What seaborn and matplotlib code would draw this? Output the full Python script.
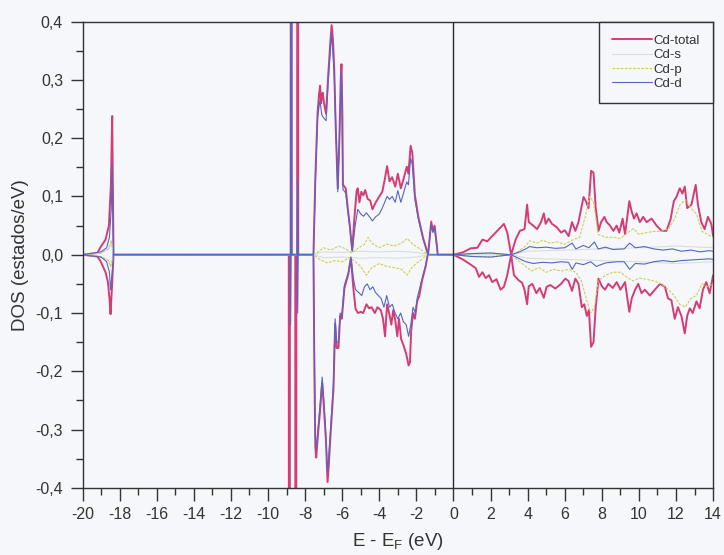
import numpy as np
import pandas as pd
import matplotlib
matplotlib.use("Agg")
import matplotlib.pyplot as plt
from matplotlib.ticker import MultipleLocator, FuncFormatter
import seaborn as sns

# ---- Cd projected DOS (spin up > 0, spin down < 0), E - E_F in eV ----
tot_up_e = [-20.0, -19.2, -19.03, -18.76, -18.58, -18.47, -18.40, -18.33,
            -8.78, -8.75, -8.72, -8.43, -8.40, -8.37,
            -7.55, -7.45, -7.33, -7.25, -7.19, -7.14, -7.10, -7.05, -6.98, -6.87,
            -6.75, -6.65, -6.57, -6.50, -6.43, -6.35, -6.24, -6.15, -6.08, -6.04,
            -5.99, -5.96, -5.81, -5.70, -5.60, -5.46, -5.35, -5.22, -5.16, -5.07,
            -4.97, -4.86, -4.76, -4.63, -4.49, -4.37, -4.19, -4.02, -3.84, -3.70,
            -3.58, -3.45, -3.31, -3.14, -3.00, -2.84, -2.70, -2.52, -2.43, -2.31,
            -2.22, -2.08, -1.90, -1.64, -1.37, -1.20, -1.11, -1.02, -0.90, -0.85,
            0.0, 0.5, 0.93, 1.29, 1.56, 1.82, 2.09, 2.45, 2.72, 2.90, 3.11, 3.35,
            3.58, 3.83, 3.97, 4.06, 4.30, 4.51, 4.72, 4.87, 4.97, 5.13, 5.31, 5.58,
            5.80, 6.00, 6.21, 6.39, 6.57, 6.74, 7.01, 7.14, 7.28, 7.42, 7.55, 7.67,
            7.82, 7.96, 8.14, 8.26, 8.44, 8.62, 8.80, 8.94, 9.12, 9.25, 9.48, 9.61,
            9.73, 9.87, 10.05, 10.23, 10.41, 10.68, 10.95, 11.22, 11.48, 11.70,
            11.88, 12.02, 12.20, 12.34, 12.47, 12.60, 12.83, 13.06, 13.18, 13.36,
            13.54, 13.72, 13.90, 14.0]
tot_up = [0.0, 0.003, 0.013, 0.026, 0.05, 0.12, 0.238, 0.0,
          0.0, 3.0, 0.0, 0.0, 3.0, 0.0,
          0.0, 0.13, 0.242, 0.275, 0.29, 0.26, 0.27, 0.278, 0.26, 0.242,
          0.31, 0.36, 0.394, 0.37, 0.32, 0.22, 0.114, 0.20, 0.30, 0.327,
          0.24, 0.12, 0.114, 0.08, 0.053, 0.008, 0.06, 0.11, 0.114, 0.09,
          0.108, 0.102, 0.111, 0.096, 0.093, 0.078, 0.09, 0.099, 0.108, 0.13,
          0.152, 0.126, 0.133, 0.117, 0.139, 0.114, 0.129, 0.151, 0.139, 0.187,
          0.175, 0.102, 0.066, 0.029, 0.0, 0.057, 0.041, 0.05, 0.017, 0.0,
          0.0, 0.004, 0.011, 0.012, 0.026, 0.023, 0.032, 0.044, 0.053, 0.038, 0.0, 0.026,
          0.041, 0.044, 0.086, 0.056, 0.05, 0.044, 0.056, 0.071, 0.053, 0.062, 0.053, 0.047,
          0.038, 0.042, 0.032, 0.056, 0.041, 0.056, 0.099, 0.092, 0.08, 0.144, 0.141, 0.08,
          0.041, 0.056, 0.065, 0.056, 0.05, 0.041, 0.05, 0.038, 0.062, 0.035, 0.092, 0.074,
          0.062, 0.071, 0.056, 0.065, 0.056, 0.062, 0.05, 0.041, 0.041, 0.06,
          0.092, 0.099, 0.114, 0.105, 0.117, 0.08, 0.086, 0.12, 0.086, 0.056,
          0.044, 0.065, 0.053, 0.032]

tot_dn_e = [-20.0, -19.2, -19.03, -18.76, -18.63, -18.54, -18.49, -18.40, -18.33,
            -8.88, -8.85, -8.82, -8.53, -8.50, -8.47,
            -7.55, -7.50, -7.45, -7.40, -7.31, -7.20, -7.08, -6.99, -6.88, -6.79,
            -6.72, -6.65, -6.47, -6.38, -6.30, -6.20, -6.11, -6.02, -5.88, -5.67,
            -5.53, -5.40, -5.28, -5.15, -5.00, -4.87, -4.69, -4.55, -4.42, -4.24,
            -4.10, -3.92, -3.80, -3.69, -3.58, -3.47, -3.35, -3.25, -3.15, -3.03,
            -2.94, -2.82, -2.70, -2.55, -2.42, -2.35, -2.28, -2.18, -2.08, -1.96,
            -1.84, -1.70, -1.50, -1.39,
            0.0, 0.5, 0.93, 1.20, 1.38, 1.56, 1.74, 1.92, 2.09, 2.32, 2.54, 2.72,
            2.90, 3.11, 3.26, 3.52, 3.70, 3.83, 3.97, 4.06, 4.25, 4.47, 4.65, 4.87,
            5.02, 5.22, 5.49, 5.80, 6.03, 6.20, 6.39, 6.57, 6.74, 6.92, 7.05, 7.19,
            7.30, 7.42, 7.55, 7.67, 7.82, 8.00, 8.17, 8.35, 8.59, 8.80, 9.00, 9.25,
            9.48, 9.61, 9.79, 9.96, 10.14, 10.32, 10.59, 10.86, 11.13, 11.40, 11.57,
            11.75, 11.93, 12.10, 12.29, 12.47, 12.60, 12.74, 12.90, 13.10, 13.27,
            13.45, 13.63, 13.81, 14.0]
tot_dn = [0.0, -0.003, -0.011, -0.03, -0.047, -0.078, -0.102, -0.047, 0.0,
          0.0, -3.0, 0.0, 0.0, -3.0, 0.0,
          0.0, -0.2, -0.33, -0.348, -0.31, -0.27, -0.22, -0.26, -0.317, -0.39,
          -0.36, -0.32, -0.23, -0.118, -0.16, -0.16, -0.105, -0.11, -0.057, -0.033,
          -0.005, -0.057, -0.093, -0.1, -0.098, -0.1, -0.085, -0.092, -0.09, -0.1,
          -0.09, -0.095, -0.11, -0.14, -0.085, -0.1, -0.12, -0.095, -0.11, -0.14,
          -0.11, -0.145, -0.155, -0.17, -0.19, -0.185, -0.13, -0.1, -0.11, -0.08,
          -0.07, -0.045, -0.02, 0.0,
          0.0, -0.008, -0.017, -0.023, -0.038, -0.03, -0.04, -0.035, -0.047, -0.042, -0.06, -0.055,
          -0.035, 0.0, -0.035, -0.044, -0.048, -0.06, -0.085, -0.054, -0.05, -0.066, -0.057, -0.074,
          -0.055, -0.052, -0.058, -0.05, -0.041, -0.045, -0.062, -0.041, -0.05, -0.09, -0.085, -0.105,
          -0.095, -0.158, -0.15, -0.09, -0.041, -0.054, -0.06, -0.05, -0.057, -0.047, -0.06, -0.047,
          -0.098, -0.075, -0.06, -0.05, -0.066, -0.06, -0.07, -0.06, -0.05, -0.055, -0.075,
          -0.078, -0.11, -0.09, -0.105, -0.135, -0.105, -0.092, -0.1, -0.08, -0.092,
          -0.06, -0.047, -0.066, -0.035]

d_up_e = [-20.0, -19.0, -18.7, -18.55, -18.45, -18.40, -18.33,
          -8.78, -8.75, -8.72, -8.43, -8.40, -8.37,
          -7.55, -7.45, -7.33, -7.20, -7.10, -7.00, -6.87, -6.75, -6.57, -6.43,
          -6.24, -6.04, -5.96, -5.81, -5.60, -5.46, -5.30, -5.16, -5.00, -4.85,
          -4.70, -4.50, -4.37, -4.20, -4.00, -3.84, -3.58, -3.45, -3.30, -3.14,
          -3.00, -2.84, -2.70, -2.52, -2.43, -2.31, -2.22, -2.08, -1.90, -1.64,
          -1.37, -1.20, -1.11, -1.02, -0.90, -0.85,
          0.0, 1.0, 2.0, 3.1, 3.5, 3.9, 4.1, 4.5, 5.0, 5.5, 6.0, 6.4, 6.6, 7.0,
          7.3, 7.6, 7.8, 8.2, 8.6, 9.2, 9.5, 9.8, 10.3, 10.8, 11.3, 11.8, 12.3,
          12.8, 13.3, 13.8, 14.0]
d_up = [0.0, 0.005, 0.012, 0.03, 0.08, 0.153, 0.0,
        0.0, 3.0, 0.0, 0.0, 0.13, 0.0,
        0.0, 0.12, 0.235, 0.265, 0.24, 0.235, 0.23, 0.30, 0.38, 0.31,
        0.108, 0.315, 0.112, 0.106, 0.049, 0.006, 0.05, 0.078, 0.07, 0.066,
        0.072, 0.064, 0.058, 0.065, 0.07, 0.08, 0.10, 0.095, 0.10, 0.09,
        0.11, 0.09, 0.105, 0.125, 0.12, 0.165, 0.155, 0.095, 0.062, 0.027,
        0.0, 0.052, 0.038, 0.046, 0.015, 0.0,
        0.0, 0.002, 0.003, 0.0, 0.004, 0.01, 0.014, 0.012, 0.013, 0.011, 0.012, 0.02, 0.01, 0.016,
        0.012, 0.022, 0.01, 0.013, 0.009, 0.01, 0.02, 0.012, 0.014, 0.01, 0.008, 0.01, 0.006,
        0.008, 0.005, 0.007, 0.006]

d_dn_e = [-20.0, -19.0, -18.7, -18.55, -18.49, -18.40, -18.33,
          -8.81, -8.78, -8.75, -8.43, -8.40, -8.37,
          -7.55, -7.45, -7.40, -7.31, -7.20, -7.08, -6.99, -6.88, -6.79, -6.65,
          -6.47, -6.38, -6.30, -6.20, -6.11, -6.02, -5.88, -5.67, -5.53, -5.40,
          -5.28, -5.10, -4.95, -4.80, -4.65, -4.50, -4.35, -4.20, -4.05, -3.90,
          -3.75, -3.60, -3.45, -3.30, -3.15, -3.00, -2.85, -2.70, -2.55, -2.42,
          -2.30, -2.18, -2.05, -1.96, -1.70, -1.50, -1.39,
          0.0, 1.0, 2.0, 3.1, 3.5, 3.9, 4.3, 4.8, 5.3, 5.8, 6.2, 6.4, 6.6, 7.0,
          7.4, 7.7, 8.2, 8.8, 9.2, 9.5, 9.8, 10.3, 10.8, 11.3, 11.8, 12.3, 12.8,
          13.3, 13.8, 14.0]
d_dn = [0.0, -0.004, -0.012, -0.03, -0.06, -0.03, 0.0,
        0.0, -0.12, 0.0, 0.0, -0.10, 0.0,
        0.0, -0.31, -0.335, -0.30, -0.26, -0.21, -0.25, -0.31, -0.375, -0.31,
        -0.22, -0.11, -0.15, -0.15, -0.10, -0.105, -0.052, -0.031, -0.004, -0.04,
        -0.06, -0.065, -0.07, -0.055, -0.05, -0.06, -0.055, -0.065, -0.07, -0.075,
        -0.09, -0.07, -0.09, -0.085, -0.10, -0.11, -0.10, -0.115, -0.12, -0.14,
        -0.12, -0.09, -0.10, -0.075, -0.042, -0.018, 0.0,
        0.0, -0.003, -0.004, 0.0, -0.006, -0.012, -0.015, -0.013, -0.014, -0.012, -0.013, -0.025, -0.014, -0.017,
        -0.012, -0.02, -0.014, -0.012, -0.012, -0.025, -0.015, -0.016, -0.012, -0.01, -0.012, -0.01, -0.009,
        -0.008, -0.007, -0.008]

p_up_e = [-20.0, -19.0, -18.6, -18.45, -18.33,
          -7.55, -7.3, -7.0, -6.6, -6.2, -5.8, -5.5, -5.2, -4.8, -4.6, -4.4, -4.0,
          -3.6, -3.2, -2.8, -2.5, -2.2, -1.8, -1.4,
          0.0, 1.0, 2.0, 3.1, 3.5, 3.9, 4.1, 4.5, 4.8, 5.2, 5.6, 6.0, 6.4, 6.8,
          7.1, 7.35, 7.55, 7.8, 8.2, 8.6, 9.0, 9.4, 9.7, 10.0, 10.4, 10.8, 11.2,
          11.6, 11.9, 12.2, 12.5, 12.8, 13.1, 13.4, 13.7, 14.0]
p_up = [0.0, 0.003, 0.01, 0.025, 0.0,
        0.0, 0.005, 0.012, 0.008, 0.015, 0.01, 0.003, 0.01, 0.018, 0.03, 0.02, 0.012,
        0.018, 0.015, 0.02, 0.028, 0.018, 0.01, 0.0,
        0.0, 0.002, 0.003, 0.0, 0.006, 0.015, 0.024, 0.02, 0.025, 0.02, 0.022, 0.018, 0.025, 0.03,
        0.065, 0.10, 0.09, 0.035, 0.03, 0.03, 0.028, 0.038, 0.045, 0.035, 0.038, 0.04, 0.04,
        0.045, 0.06, 0.085, 0.095, 0.08, 0.07, 0.04, 0.035, 0.03]

p_dn_e = [-20.0, -19.0, -18.6, -18.5, -18.33,
          -7.55, -7.2, -6.8, -6.4, -6.0, -5.6, -5.3, -5.0, -4.7, -4.4, -4.0, -3.6,
          -3.2, -2.8, -2.5, -2.2, -1.8, -1.4,
          0.0, 1.0, 2.0, 3.1, 3.5, 3.9, 4.2, 4.6, 5.0, 5.4, 5.8, 6.2, 6.6, 6.9,
          7.2, 7.4, 7.6, 7.8, 8.2, 8.6, 9.0, 9.4, 9.7, 10.0, 10.4, 10.8, 11.2,
          11.6, 11.9, 12.2, 12.5, 12.8, 13.1, 13.4, 13.7, 14.0]
p_dn = [0.0, -0.003, -0.01, -0.02, 0.0,
        0.0, -0.008, -0.014, -0.01, -0.012, -0.005, -0.012, -0.02, -0.035, -0.022, -0.015, -0.02,
        -0.022, -0.025, -0.035, -0.02, -0.01, 0.0,
        0.0, -0.003, -0.004, 0.0, -0.01, -0.02, -0.028, -0.022, -0.03, -0.025, -0.028, -0.025, -0.03, -0.045,
        -0.08, -0.10, -0.09, -0.045, -0.035, -0.03, -0.03, -0.04, -0.045, -0.04, -0.042, -0.045, -0.05,
        -0.06, -0.07, -0.085, -0.09, -0.075, -0.07, -0.05, -0.055, -0.05]

s_up_e = [-20.0, -19.0, -18.6, -18.45, -18.33, -7.55, -7.0, -6.0, -5.0, -4.0,
          -3.0, -2.0, -1.4, 0.0, 3.1, 4.0, 6.0, 8.0, 10.0, 12.0, 14.0]
s_up = [0.0, 0.003, 0.01, 0.02, 0.0, 0.0, 0.005, 0.004, 0.006, 0.005,
        0.006, 0.004, 0.0, 0.0, 0.0, 0.006, 0.008, 0.01, 0.012, 0.015, 0.012]
s_dn_e = s_up_e
s_dn = [-v for v in s_up]

sns.set_theme(style="ticks")
plt.rcParams["font.family"] = ["Liberation Sans", "DejaVu Sans"]
plt.rcParams["mathtext.default"] = "regular"

bg = "#f6f7fb"
ink = "#333333"
fig = plt.figure(figsize=(7.24, 5.55), dpi=100, facecolor=bg)
ax = fig.add_axes([0.114, 0.121, 0.871, 0.840], facecolor=bg)

orbitals = [
    ("Cd-total", "#d43c78", 1.4, "-", (tot_up_e, tot_up), (tot_dn_e, tot_dn)),
    ("Cd-s", "#dcdcdc", 0.8, "-", (s_up_e, s_up), (s_dn_e, s_dn)),
    ("Cd-p", "#cfcf55", 0.8, (0, (2.5, 1.2)), (p_up_e, p_up), (p_dn_e, p_dn)),
    ("Cd-d", "#5466c4", 0.8, "-", (d_up_e, d_up), (d_dn_e, d_dn)),
]

for name, color, lw, ls, up, dn in orbitals:
    for spin, (e, v) in (("up", up), ("down", dn)):
        df = pd.DataFrame({"E": e, "DOS": v})
        sns.lineplot(data=df, x="E", y="DOS", sort=False, estimator=None,
                     color=color, linewidth=lw, linestyle=ls, ax=ax,
                     label=name if spin == "up" else "_nolegend_")

ax.axvline(0.0, color="#2a2a2a", linewidth=1.0, zorder=5)

ax.set_xlim(-20, 14)
ax.set_ylim(-0.4, 0.4)
ax.xaxis.set_major_locator(MultipleLocator(2))
ax.xaxis.set_minor_locator(MultipleLocator(1))
ax.yaxis.set_major_locator(MultipleLocator(0.1))
ax.yaxis.set_minor_locator(MultipleLocator(0.05))


def comma_fmt(v, pos):
    if abs(v) < 1e-9:
        v = 0.0
    return f"{v:.1f}".replace(".", ",")


ax.yaxis.set_major_formatter(FuncFormatter(comma_fmt))
ax.xaxis.set_major_formatter(FuncFormatter(lambda v, pos: f"{v:.0f}"))

ax.tick_params(axis="both", which="major", direction="out", length=9, width=1.0,
               color=ink, labelsize=11.5, labelcolor=ink, pad=5)
ax.tick_params(axis="both", which="minor", direction="out", length=5, width=1.0,
               color=ink)
for sp in ax.spines.values():
    sp.set_color(ink)
    sp.set_linewidth(1.0)

ax.set_xlabel("E - E$_F$ (eV)", fontsize=13.5, color=ink, labelpad=6)
ax.set_ylabel("DOS (estados/eV)", fontsize=13.5, color=ink, labelpad=5)

leg = ax.legend(loc="upper right", frameon=True, fancybox=False, fontsize=9.5,
                borderaxespad=0.0, handlelength=3.0, handletextpad=0.15,
                labelspacing=0.15, borderpad=1.0)
leg.get_frame().set_edgecolor(ink)
leg.get_frame().set_linewidth(1.0)
leg.get_frame().set_facecolor(bg)
leg.get_frame().set_alpha(1.0)
for t in leg.get_texts():
    t.set_color(ink)

fig.savefig("out.png", dpi=100, facecolor=bg)
